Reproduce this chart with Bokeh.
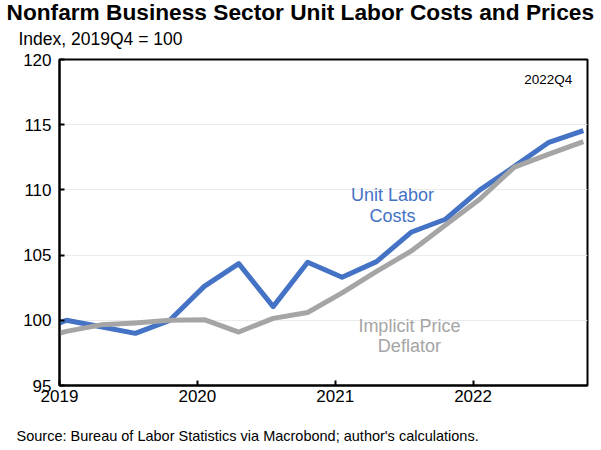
from bokeh.plotting import figure
from bokeh.models import Range1d, FixedTicker, Title, Label
from bokeh.embed import file_html
from bokeh.resources import INLINE

# ---- data ----
quarters = ["2018Q4",
            "2019Q1", "2019Q2", "2019Q3", "2019Q4",
            "2020Q1", "2020Q2", "2020Q3", "2020Q4",
            "2021Q1", "2021Q2", "2021Q3", "2021Q4",
            "2022Q1", "2022Q2", "2022Q3", "2022Q4"]
unit_labor_costs = [99.0,
                    100.0, 99.5, 99.0, 100.0,
                    102.6, 104.35, 101.05, 104.45,
                    103.3, 104.5, 106.75, 107.75,
                    110.0, 111.8, 113.65, 114.55]
implicit_price_deflator = [98.45,
                           99.15, 99.65, 99.8, 100.0,
                           100.05, 99.1, 100.15, 100.6,
                           102.1, 103.75, 105.3, 107.3,
                           109.3, 111.75, 112.75, 113.7]
year_ticks = [2019, 2020, 2021, 2022]
y_ticks = [95, 100, 105, 110, 115, 120]

title_text = "Nonfarm Business Sector Unit Labor Costs and Prices"
subtitle_text = "Index, 2019Q4 = 100"
source_text = "Source: Bureau of Labor Statistics via Macrobond; author's calculations."

BLUE = "#4472C4"
GRAY = "#A5A5A5"
FONT = "Liberation Sans"


def qpos(q):
    yr, n = q.split("Q")
    return int(yr) + (int(n) - 1) / 4 + 0.05


xs = [qpos(q) for q in quarters]

p = figure(width=601, height=450, output_backend="svg", toolbar_location=None,
           title=None,
           x_range=Range1d(2019.0, 2022.83), y_range=Range1d(95, 120),
           min_border_left=59, min_border_right=14,
           min_border_top=59, min_border_bottom=65)
p.background_fill_color = "white"
p.border_fill_color = "white"
p.outline_line_color = "black"
p.outline_line_width = 2

# titles (subtitle first = closest to the plot frame)
sub = Title(text=subtitle_text, align="left", offset=-41,
            text_font=FONT, text_font_size="17.5px", text_font_style="normal",
            text_color="black", standoff=22)
p.add_layout(sub, "above")
main = Title(text=title_text, align="left", offset=-53,
             text_font=FONT, text_font_size="22.7px", text_font_style="bold",
             text_color="black", standoff=-19)
p.add_layout(main, "above")
src = Title(text=source_text, align="left", offset=-43,
            text_font=FONT, text_font_size="14.5px", text_font_style="normal",
            text_color="black", standoff=11)
p.add_layout(src, "below")

# axes
for ax in (p.xaxis[0], p.yaxis[0]):
    ax.axis_line_color = "black"
    ax.axis_line_width = 2
    ax.major_tick_in = 5
    ax.major_tick_out = 0
    ax.major_tick_line_color = "black"
    ax.major_tick_line_width = 2
    ax.minor_tick_line_color = None
    ax.major_label_text_font = FONT
    ax.major_label_text_font_size = "17px"
    ax.major_label_text_color = "black"

p.xaxis[0].ticker = FixedTicker(ticks=year_ticks)
p.xaxis[0].major_label_overrides = {t: str(t) for t in year_ticks}
p.xaxis[0].major_label_standoff = 4
p.xaxis[0].axis_label = " "
p.xaxis[0].axis_label_text_font_size = "8px"
p.xaxis[0].axis_label_standoff = 4
p.yaxis[0].ticker = FixedTicker(ticks=y_ticks)
p.yaxis[0].major_label_standoff = 8

p.xgrid.grid_line_color = None
p.ygrid.grid_line_color = "#EBEBEB"
p.ygrid.grid_line_width = 1

# lines
p.line(xs, unit_labor_costs, line_color=BLUE, line_width=5, line_join="round")
p.line(xs, implicit_price_deflator, line_color=GRAY, line_width=5, line_join="round")

# annotations
def add_label(x, y, text, color, size, align="center"):
    p.add_layout(Label(x=x, y=y, text=text, text_color=color, text_font=FONT,
                       text_font_size=size, text_align=align,
                       text_baseline="alphabetic"))

add_label(2021.415, 109.58, "Unit Labor", BLUE, "18px")
add_label(2021.415, 108.0, "Costs", BLUE, "18px")
add_label(2021.538, 99.59, "Implicit Price", GRAY, "18px")
add_label(2021.538, 98.06, "Deflator", GRAY, "18px")
add_label(2022.72, 118.45, "2022Q4", "black", "13.5px", align="right")

open("out.html", "w").write(file_html(p, INLINE))
